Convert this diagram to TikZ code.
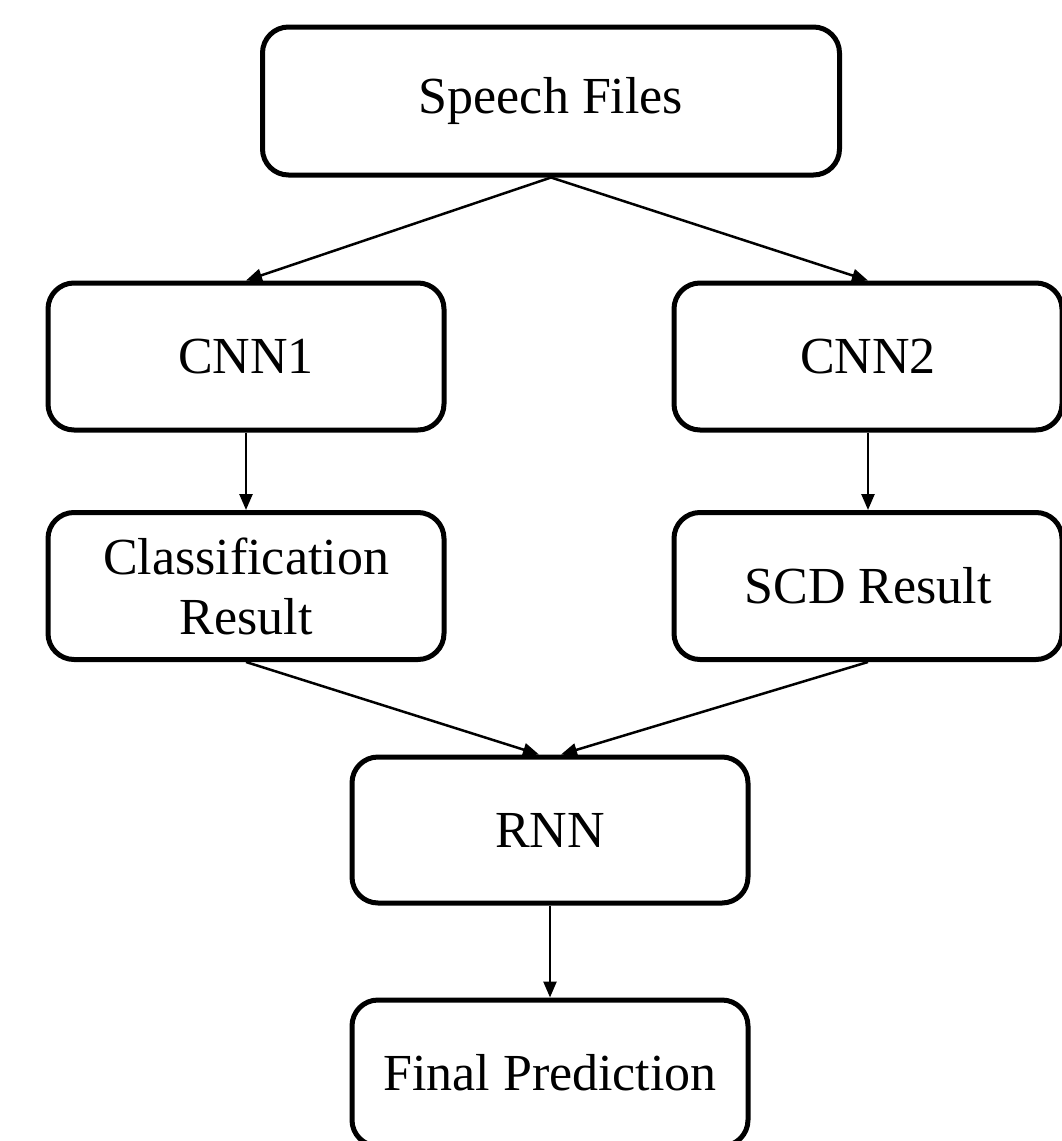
\documentclass[tikz,border=0pt]{standalone}
\usepackage{fontspec}
\setmainfont{Liberation Serif}
\usetikzlibrary{arrows.meta}
\begin{document}
\begin{tikzpicture}[x=1pt,y=-1pt,
  box/.style={draw=black, line width=5pt, rounded corners=26pt, fill=white,
    align=center, font=\fontsize{52}{60}\selectfont, inner sep=0pt,
    minimum width=396pt, minimum height=147pt},
  conn/.style={line width=2.5pt, -{Triangle[length=16pt,width=13pt]}}]
\useasboundingbox (0,0) rectangle (1062,1141);
\node[box, minimum width=577pt, minimum height=148pt] (sf) at (551,101) {Speech Files};
\node[box] (cnn1) at (246,356.5) {CNN1};
\node[box, minimum width=388pt] (cnn2) at (868,356.5) {CNN2};
\node[box] (cls) at (246,586) {Classification\\Result};
\node[box, minimum width=388pt] (scd) at (868,586) {SCD Result};
\node[box, minimum height=146pt] (rnn) at (550,830) {RNN};
\node[box, minimum height=146pt] (fin) at (550,1073) {Final Prediction};
\draw[conn] (sf.south) -- (cnn1.north);
\draw[conn] (sf.south) -- (cnn2.north);
\draw[conn] (cnn1.south) -- (cls.north);
\draw[conn] (cnn2.south) -- (scd.north);
\draw[conn] (cls.south) -- ([xshift=-11pt]rnn.north);
\draw[conn] (scd.south) -- ([xshift=11pt]rnn.north);
\draw[conn] (rnn.south) -- (fin.north);
\end{tikzpicture}
\end{document}
